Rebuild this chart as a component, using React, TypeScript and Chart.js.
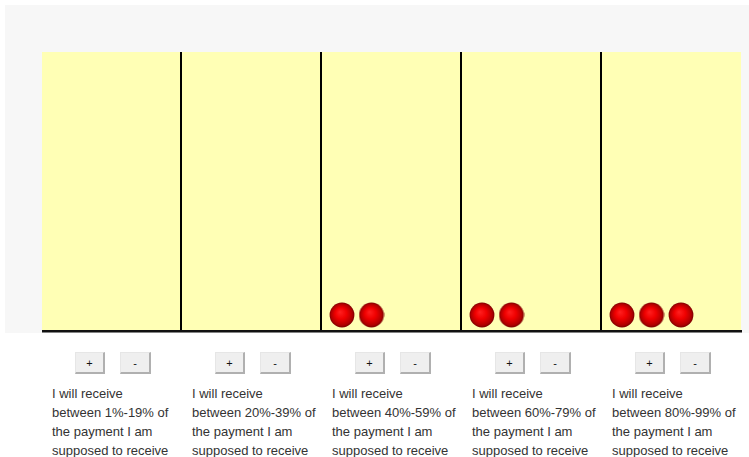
import React, { useEffect, useRef } from "react";
import { Chart, registerables } from "chart.js";

Chart.register(...registerables);

const binLabels = [
  ["I will receive", "between 1%-19% of", "the payment I am", "supposed to receive"],
  ["I will receive", "between 20%-39% of", "the payment I am", "supposed to receive"],
  ["I will receive", "between 40%-59% of", "the payment I am", "supposed to receive"],
  ["I will receive", "between 60%-79% of", "the payment I am", "supposed to receive"],
  ["I will receive", "between 80%-99% of", "the payment I am", "supposed to receive"],
];
const ballCounts = [0, 0, 2, 2, 3];

const BIN_PX = 140;
const PLOT_H = 278;
const ROW_PX = 30;
const FIRST_OFF = 22;
const SPACING = 29.5;

function makeBall(): HTMLCanvasElement {
  const c = document.createElement("canvas");
  c.width = 26;
  c.height = 26;
  const g = c.getContext("2d")!;
  const grad = g.createRadialGradient(11, 10, 0, 13, 13, 12.5);
  grad.addColorStop(0, "#ff2020");
  grad.addColorStop(0.45, "#f00000");
  grad.addColorStop(0.85, "#b00000");
  grad.addColorStop(1, "#7a0000");
  g.fillStyle = grad;
  g.beginPath();
  g.arc(13, 13, 12.4, 0, Math.PI * 2);
  g.fill();
  return c;
}

const bgPlugin = {
  id: "bgPlugin",
  beforeDraw(chart: any) {
    const { ctx, chartArea } = chart;
    ctx.save();
    ctx.fillStyle = "#f7f7f7";
    ctx.fillRect(0, 0, chart.width, chart.height);
    ctx.fillStyle = "#ffffb5";
    ctx.fillRect(chartArea.left + 2, chartArea.top, chartArea.right - chartArea.left - 1, chartArea.bottom - chartArea.top);
    ctx.restore();
  },
  afterDatasetsDraw(chart: any) {
    const { ctx, chartArea, scales } = chart;
    ctx.save();
    ctx.strokeStyle = "#000";
    ctx.lineWidth = 2;
    for (let i = 1; i < ballCounts.length; i++) {
      const x = Math.round(scales.x.getPixelForValue(i)) + 1;
      ctx.beginPath();
      ctx.moveTo(x, chartArea.top);
      ctx.lineTo(x, chartArea.bottom);
      ctx.stroke();
    }
    ctx.strokeStyle = "#111";
    ctx.lineWidth = 2.5;
    ctx.beginPath();
    ctx.moveTo(chartArea.left + 2, chartArea.bottom + 1.25);
    ctx.lineTo(chartArea.right + 2, chartArea.bottom + 1.25);
    ctx.stroke();
    ctx.restore();
  },
};

export default function App() {
  const ref = useRef<HTMLCanvasElement>(null);
  useEffect(() => {
    const ball = makeBall();
    const points: { x: number; y: number }[] = [];
    ballCounts.forEach((n, i) => {
      for (let k = 0; k < n; k++) {
        points.push({ x: i + (FIRST_OFF + k * SPACING) / BIN_PX, y: 0.5 });
      }
    });
    const chart = new Chart(ref.current!, {
      type: "scatter",
      data: {
        datasets: [
          {
            data: points,
            pointStyle: ball as any,
            pointRadius: 12.5,
            pointHoverRadius: 12.5,
          },
        ],
      },
      options: {
        animation: false,
        responsive: false,
        maintainAspectRatio: false,
        events: [],
        layout: { autoPadding: false, padding: { left: 35, top: 47, right: 9, bottom: 3 } },
        plugins: { legend: { display: false }, tooltip: { enabled: false } },
        scales: {
          x: { type: "linear", min: 0, max: ballCounts.length, display: false },
          y: { type: "linear", min: 0, max: PLOT_H / ROW_PX, display: false },
        },
      },
      plugins: [bgPlugin],
    });
    return () => chart.destroy();
  }, []);

  const btn: React.CSSProperties = {
    position: "absolute",
    top: 352,
    height: 22,
    boxSizing: "border-box",
    background: "#efefef",
    borderTop: "1px solid #e6e6e6",
    borderLeft: "1px solid #e6e6e6",
    borderRight: "2px solid #b0b0b0",
    borderBottom: "2px solid #b0b0b0",
    fontFamily: "Arial, 'Liberation Sans', sans-serif",
    fontSize: 11,
    color: "#111",
    display: "flex",
    alignItems: "center",
    justifyContent: "center",
    padding: 0,
  };

  return (
    <div style={{ position: "absolute", left: 0, top: 0, width: 749, height: 457, background: "#fff", overflow: "hidden" }}>
      <canvas ref={ref} width={744} height={328} style={{ position: "absolute", left: 5, top: 5, width: 744, height: 328 }} />
      {binLabels.map((lines, i) => (
        <div key={i} style={{ position: "absolute", left: 40 + BIN_PX * i, top: 0, width: BIN_PX }}>
          <div style={{ ...btn, left: 35, width: 30 }}>+</div>
          <div style={{ ...btn, left: 80, width: 31 }}>-</div>
          <div
            style={{
              position: "absolute",
              left: 12,
              top: 384,
              width: 135,
              fontFamily: "Arial, 'Liberation Sans', sans-serif",
              fontSize: 13,
              lineHeight: "19px",
              color: "#333",
              whiteSpace: "nowrap",
            }}
          >
            {lines.map((l, j) => (
              <div key={j}>{l}</div>
            ))}
          </div>
        </div>
      ))}
    </div>
  );
}
